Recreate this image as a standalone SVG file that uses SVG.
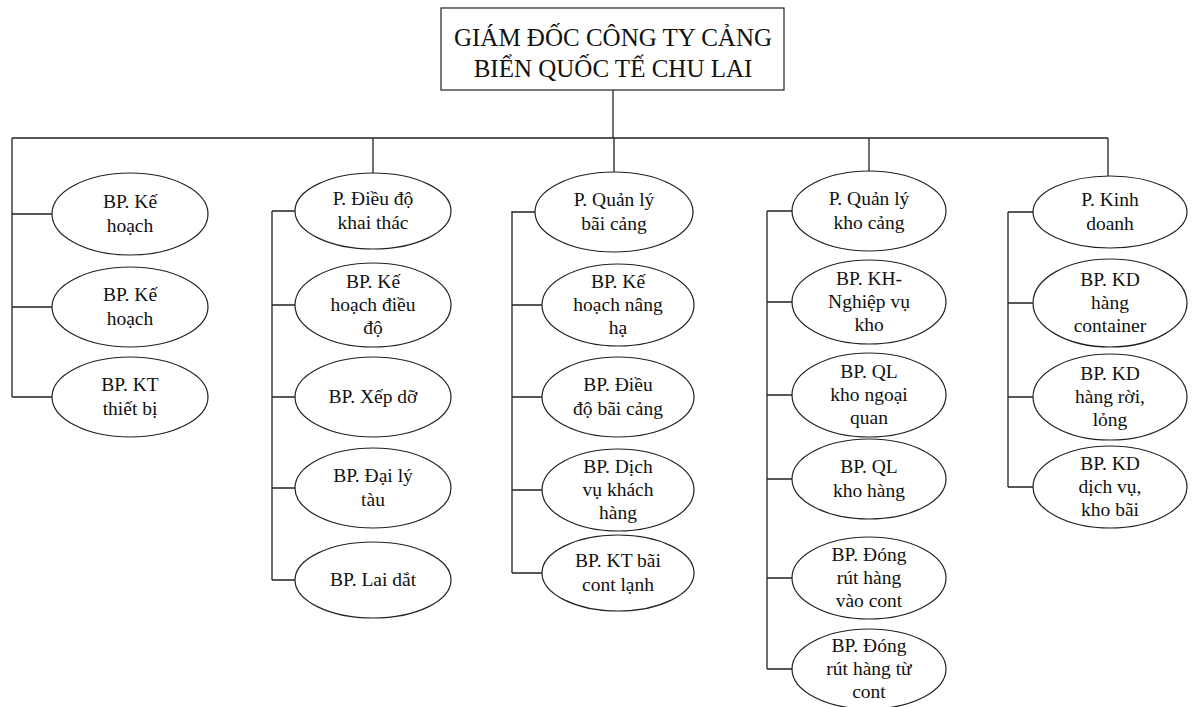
<svg xmlns="http://www.w3.org/2000/svg" width="1192" height="707" viewBox="0 0 1192 707">
<style>
.n{fill:#fff;stroke:#222;stroke-width:1.2}
.t{font-family:"Liberation Serif","Times New Roman",serif;font-size:19.5px;fill:#111;text-anchor:middle}
.h{font-family:"Liberation Serif","Times New Roman",serif;font-size:25px;fill:#111;text-anchor:middle}
.c{fill:none;stroke:#222;stroke-width:1.3}
</style>
<rect width="1192" height="707" fill="#fff"/>
<g id="connectors" class="c">
<path d="M613 90V138M12 138H1108M12 138V397M373 138V173M614 138V172M869 138V171M1108 138V176"/>
<path d="M12 214H52M12 307H52M12 397H52"/>
<path d="M272 211V580M272 211H295M272 305H295M272 397H295M272 488H295M272 580H295"/>
<path d="M512 211V573M512 212H535M512 305H542M512 397H542M512 490H542M512 573H542"/>
<path d="M767 211V669M767 211H792M767 302H792M767 395H792M767 479H792M767 578H792M767 669H792"/>
<path d="M1008 212V487M1008 212H1033M1008 303H1033M1008 397H1033M1008 487H1033"/>
</g>
<g id="top"><rect x="441" y="8" width="343" height="82" class="n"/><text class="h" x="613" y="46">GIÁM ĐỐC CÔNG TY CẢNG</text><text class="h" x="613" y="77">BIỂN QUỐC TẾ CHU LAI</text></g>
<g id="c1e1"><ellipse cx="130" cy="214" rx="78" ry="41" class="n"/><text class="t" x="130" y="208">BP. Kế</text><text class="t" x="130" y="232">hoạch</text></g>
<g id="c1e2"><ellipse cx="130" cy="307" rx="78" ry="40" class="n"/><text class="t" x="130" y="301">BP. Kế</text><text class="t" x="130" y="325">hoạch</text></g>
<g id="c1e3"><ellipse cx="130" cy="397" rx="78" ry="40" class="n"/><text class="t" x="130" y="391">BP. KT</text><text class="t" x="130" y="415">thiết bị</text></g>
<g id="c2e1"><ellipse cx="373" cy="211" rx="78" ry="38" class="n"/><text class="t" x="373" y="205">P. Điều độ</text><text class="t" x="373" y="229">khai thác</text></g>
<g id="c2e2"><ellipse cx="373" cy="305" rx="78" ry="42" class="n"/><text class="t" x="373" y="288">BP. Kế</text><text class="t" x="373" y="311">hoạch điều</text><text class="t" x="373" y="334">độ</text></g>
<g id="c2e3"><ellipse cx="373" cy="397" rx="78" ry="40" class="n"/><text class="t" x="373" y="403">BP. Xếp dỡ</text></g>
<g id="c2e4"><ellipse cx="373" cy="488" rx="78" ry="40" class="n"/><text class="t" x="373" y="482">BP. Đại lý</text><text class="t" x="373" y="506">tàu</text></g>
<g id="c2e5"><ellipse cx="373" cy="580" rx="78" ry="38" class="n"/><text class="t" x="373" y="586">BP. Lai dắt</text></g>
<g id="c3e1"><ellipse cx="614" cy="212" rx="79" ry="40" class="n"/><text class="t" x="614" y="206">P. Quản lý</text><text class="t" x="614" y="230">bãi cảng</text></g>
<g id="c3e2"><ellipse cx="618" cy="305" rx="76" ry="41" class="n"/><text class="t" x="618" y="288">BP. Kế</text><text class="t" x="618" y="311">hoạch nâng</text><text class="t" x="618" y="334">hạ</text></g>
<g id="c3e3"><ellipse cx="618" cy="397" rx="76" ry="40" class="n"/><text class="t" x="618" y="391">BP. Điều</text><text class="t" x="618" y="415">độ bãi cảng</text></g>
<g id="c3e4"><ellipse cx="618" cy="490" rx="76" ry="41" class="n"/><text class="t" x="618" y="473">BP. Dịch</text><text class="t" x="618" y="496">vụ khách</text><text class="t" x="618" y="519">hàng</text></g>
<g id="c3e5"><ellipse cx="618" cy="573" rx="76" ry="38" class="n"/><text class="t" x="618" y="567">BP. KT bãi</text><text class="t" x="618" y="591">cont lạnh</text></g>
<g id="c4e1"><ellipse cx="869" cy="211" rx="77" ry="40" class="n"/><text class="t" x="869" y="205">P. Quản lý</text><text class="t" x="869" y="229">kho cảng</text></g>
<g id="c4e2"><ellipse cx="869" cy="302" rx="77" ry="42" class="n"/><text class="t" x="869" y="285">BP. KH-</text><text class="t" x="869" y="308">Nghiệp vụ</text><text class="t" x="869" y="331">kho</text></g>
<g id="c4e3"><ellipse cx="869" cy="395" rx="77" ry="42" class="n"/><text class="t" x="869" y="378">BP. QL</text><text class="t" x="869" y="401">kho ngoại</text><text class="t" x="869" y="424">quan</text></g>
<g id="c4e4"><ellipse cx="869" cy="479" rx="77" ry="40" class="n"/><text class="t" x="869" y="473">BP. QL</text><text class="t" x="869" y="497">kho hàng</text></g>
<g id="c4e5"><ellipse cx="869" cy="578" rx="77" ry="41" class="n"/><text class="t" x="869" y="561">BP. Đóng</text><text class="t" x="869" y="584">rút hàng</text><text class="t" x="869" y="607">vào cont</text></g>
<g id="c4e6"><ellipse cx="869" cy="669" rx="77" ry="40" class="n"/><text class="t" x="869" y="652">BP. Đóng</text><text class="t" x="869" y="675">rút hàng từ</text><text class="t" x="869" y="698">cont</text></g>
<g id="c5e1"><ellipse cx="1110" cy="212" rx="77" ry="36" class="n"/><text class="t" x="1110" y="206">P. Kinh</text><text class="t" x="1110" y="230">doanh</text></g>
<g id="c5e2"><ellipse cx="1110" cy="303" rx="77" ry="44" class="n"/><text class="t" x="1110" y="286">BP. KD</text><text class="t" x="1110" y="309">hàng</text><text class="t" x="1110" y="332">container</text></g>
<g id="c5e3"><ellipse cx="1110" cy="397" rx="77" ry="43" class="n"/><text class="t" x="1110" y="380">BP. KD</text><text class="t" x="1110" y="403">hàng rời,</text><text class="t" x="1110" y="426">lỏng</text></g>
<g id="c5e4"><ellipse cx="1110" cy="487" rx="77" ry="41" class="n"/><text class="t" x="1110" y="470">BP. KD</text><text class="t" x="1110" y="493">dịch vụ,</text><text class="t" x="1110" y="516">kho bãi</text></g>
</svg>
